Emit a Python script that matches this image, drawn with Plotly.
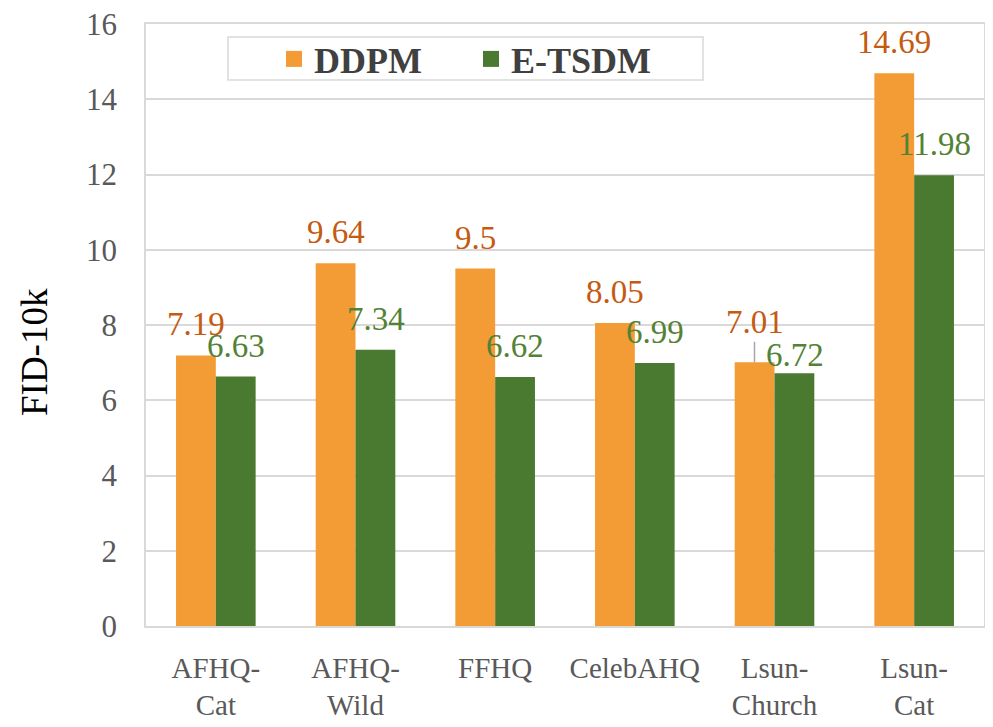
import plotly.graph_objects as go

categories = ["AFHQ-<br>Cat", "AFHQ-<br>Wild", "FFHQ", "CelebAHQ", "Lsun-<br>Church", "Lsun-<br>Cat"]
ddpm = [7.19, 9.64, 9.5, 8.05, 7.01, 14.69]
etsdm = [6.63, 7.34, 6.62, 6.99, 6.72, 11.98]
ddpm_labels = ["7.19", "9.64", "9.5", "8.05", "7.01", "14.69"]
etsdm_labels = ["6.63", "7.34", "6.62", "6.99", "6.72", "11.98"]
y_ticks = [0, 2, 4, 6, 8, 10, 12, 14, 16]
y_title = "FID-10k"
series_names = ["DDPM", "E-TSDM"]

ORANGE = "#F39C35"
GREEN = "#4A7A2F"
ORANGE_TXT = "#C55A11"
GREEN_TXT = "#548235"
FONT = "Liberation Serif"

fig = go.Figure()
fig.add_trace(go.Bar(name=series_names[0], x=categories, y=ddpm, showlegend=False,
                     marker=dict(color=ORANGE, line=dict(width=0))))
fig.add_trace(go.Bar(name=series_names[1], x=categories, y=etsdm, showlegend=False,
                     marker=dict(color=GREEN, line=dict(width=0))))
# legend swatches (larger squares than the default bar legend symbol)
for nm, col in zip(series_names, [ORANGE, GREEN]):
    fig.add_trace(go.Scatter(name=nm, x=[None], y=[None], mode="markers", hoverinfo="skip",
                             marker=dict(symbol="square", size=16, color=col)))

# label offsets (style only): default lift, with special cases
lift_d = {4: 40}
lift_e = {4: 18}
anns = []
for i, c in enumerate(categories):
    if i == 4:
        anns.append(dict(x=c, y=ddpm[i], xref="x", yref="y", text=ddpm_labels[i], xshift=-20,
                         showarrow=True, ax=0, ay=-40, arrowhead=0, arrowwidth=1.5, arrowcolor="#A6A6A6",
                         font=dict(family=FONT, size=33, color=ORANGE_TXT)))
    else:
        anns.append(dict(x=c, y=ddpm[i], xref="x", yref="y", text=ddpm_labels[i], xshift=-20,
                         yshift=lift_d.get(i, 31), showarrow=False, yanchor="middle",
                         font=dict(family=FONT, size=33, color=ORANGE_TXT)))
    anns.append(dict(x=c, y=etsdm[i], xref="x", yref="y", text=etsdm_labels[i], xshift=20,
                     yshift=lift_e.get(i, 31), showarrow=False, yanchor="middle",
                     font=dict(family=FONT, size=33, color=GREEN_TXT)))

# y-axis title as a paper annotation (page x ~34, y ~352)
anns.append(dict(xref="paper", yref="paper", x=(34 - 146) / 838, y=(626 - 352) / 602,
                 text=y_title, textangle=-90, showarrow=False, xanchor="center", yanchor="middle",
                 font=dict(family=FONT, size=37, color="black")))

# page has an 8px body margin; plot area should sit at page x 146..984, y 24..626
fig.update_layout(
    width=985, height=719,
    margin=dict(l=138, r=9, t=16, b=101, autoexpand=False),
    paper_bgcolor="white", plot_bgcolor="white",
    barmode="group", bargap=0.43, bargroupgap=0,
    font=dict(family=FONT, color="#595959"),
    annotations=anns,
    showlegend=True,
    legend=dict(orientation="h", x=(274 - 146) / 838, y=(626 - 59) / 602, xanchor="left", yanchor="middle",
                font=dict(family=FONT, size=36, color="#404040", weight="bold"),
                bgcolor="rgba(0,0,0,0)", borderwidth=0, entrywidth=152, itemclick=False),
    shapes=[dict(type="rect", xref="paper", yref="paper",
                 x0=(228 - 146) / 838, x1=(703 - 146) / 838,
                 y0=(626 - 80) / 602, y1=(626 - 37) / 602,
                 line=dict(color="#D9D9D9", width=1.5), fillcolor="white", layer="below")],
)
fig.update_xaxes(showline=True, mirror=True, linecolor="#D9D9D9", linewidth=1.5, automargin=False,
                 tickfont=dict(family=FONT, size=29, color="#595959"), ticks="", ticklabelstandoff=15,
                 ticklabeloverflow="allow")
fig.update_yaxes(range=[0, 16], tickvals=y_ticks, showgrid=True, gridcolor="#D9D9D9", gridwidth=1.5,
                 showline=True, mirror=True, linecolor="#D9D9D9", linewidth=1.5, zeroline=False,
                 automargin=False, ticklabeloverflow="allow",
                 tickfont=dict(family=FONT, size=31, color="#595959"), ticks="", ticklabelstandoff=21)

fig.write_html("out.html")
